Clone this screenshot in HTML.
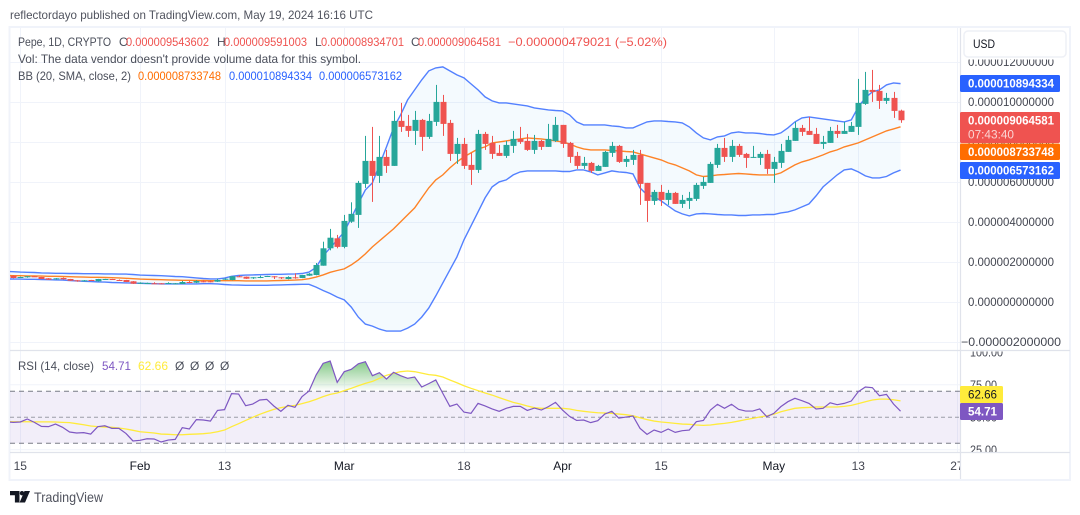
<!DOCTYPE html>
<html lang="en">
<head>
<meta charset="utf-8">
<title>Pepe 1D chart</title>
<style>
html,body{margin:0;padding:0;background:#fff;width:1080px;height:515px;overflow:hidden}
svg{display:block;font-family:"Liberation Sans",sans-serif}
text{white-space:pre}
</style>
</head>
<body>
<svg id="chart" xmlns="http://www.w3.org/2000/svg" width="1080" height="515" viewBox="0 0 1080 515">
  <defs>
    <clipPath id="clip-main"><rect x="10" y="28" width="950.5" height="322"/></clipPath>
    <clipPath id="clip-rsi"><rect x="10" y="351.5" width="950.5" height="100"/></clipPath>
    <clipPath id="clip-ob"><rect x="10" y="351.5" width="950.5" height="39.8"/></clipPath>
    <clipPath id="clip-time"><rect x="10" y="453" width="950" height="26"/></clipPath>
    <clipPath id="clip-rsi-axis"><rect x="961" y="351.5" width="108" height="100.5"/></clipPath>
    <linearGradient id="ob-gradient" gradientUnits="userSpaceOnUse" x1="0" y1="358" x2="0" y2="391.3">
      <stop offset="0" stop-color="#4caf50" stop-opacity="0.75"/>
      <stop offset="1" stop-color="#4caf50" stop-opacity="0"/>
    </linearGradient>
  </defs>

  <rect x="0" y="0" width="1080" height="515" fill="#ffffff"/>
  <text x="10" y="19" font-size="12" fill="#50535e" textLength="363" lengthAdjust="spacingAndGlyphs">reflectordayo published on TradingView.com, May 19, 2024 16:16 UTC</text>
  <rect x="9.5" y="27" width="1060.5" height="453" fill="#ffffff" stroke="#f0f3fa" stroke-width="2"/>

  <g id="grid"></g>
  <g id="rsi-pane"></g>
  <g id="main-pane" clip-path="url(#clip-main)"></g>

  <line x1="10" x2="1070" y1="350.5" y2="350.5" stroke="#e0e3eb" stroke-width="1.2"/>
  <line x1="10" x2="1070" y1="452.5" y2="452.5" stroke="#e0e3eb" stroke-width="1.2"/>
  <line x1="960.5" x2="960.5" y1="28" y2="479" stroke="#e0e3eb" stroke-width="1.2"/>

  <g id="price-ticks"></g>
  <g id="rsi-ticks" clip-path="url(#clip-rsi-axis)"></g>
  <g id="time-ticks" clip-path="url(#clip-time)"></g>

  <rect x="961.5" y="28" width="107" height="31.5" fill="#ffffff"/>
  <rect x="964" y="31" width="102" height="26" rx="4" fill="#ffffff" stroke="#eef0f6" stroke-width="1.5"/>
  <text x="973" y="48" font-size="12" fill="#131722" textLength="22" lengthAdjust="spacingAndGlyphs">USD</text>

  <g>
    <rect x="960" y="75" width="100" height="17" rx="1.5" fill="#2962ff"/>
    <text x="968" y="87.7" font-size="12" font-weight="700" fill="#ffffff" textLength="86" lengthAdjust="spacingAndGlyphs">0.000010894334</text>
  </g>
  <g>
    <rect x="960" y="112" width="100" height="31" rx="1.5" fill="#ef5350"/>
    <text x="968" y="124.7" font-size="12" font-weight="700" fill="#ffffff" textLength="86" lengthAdjust="spacingAndGlyphs">0.000009064581</text>
    <text x="968" y="138.5" font-size="12" fill="#ffffff" fill-opacity="0.75" textLength="46" lengthAdjust="spacingAndGlyphs">07:43:40</text>
  </g>
  <g>
    <rect x="960" y="143.5" width="100" height="16.5" rx="1.5" fill="#ff6d00"/>
    <text x="968" y="155.8" font-size="12" font-weight="700" fill="#ffffff" textLength="86" lengthAdjust="spacingAndGlyphs">0.000008733748</text>
  </g>
  <g>
    <rect x="960" y="162" width="100" height="17" rx="1.5" fill="#2962ff"/>
    <text x="968" y="174.7" font-size="12" font-weight="700" fill="#ffffff" textLength="86" lengthAdjust="spacingAndGlyphs">0.000006573162</text>
  </g>
  <g>
    <rect x="960" y="386" width="43" height="17" rx="1.5" fill="#ffeb3b"/>
    <text x="968" y="398.7" font-size="12" fill="#131722" textLength="29" lengthAdjust="spacingAndGlyphs">62.66</text>
  </g>
  <g>
    <rect x="960" y="403" width="43" height="17" rx="1.5" fill="#7e57c2"/>
    <text x="968" y="415.7" font-size="12" font-weight="700" fill="#ffffff" textLength="29" lengthAdjust="spacingAndGlyphs">54.71</text>
  </g>

  <g font-size="12" fill="#4a4e5a">
    <text x="18" y="46" textLength="93" lengthAdjust="spacingAndGlyphs">Pepe, 1D, CRYPTO</text>
    <text x="119" y="46">O</text>
    <text x="126" y="46" fill="#ef5350" textLength="83" lengthAdjust="spacingAndGlyphs">0.000009543602</text>
    <text x="217" y="46">H</text>
    <text x="224" y="46" fill="#ef5350" textLength="83" lengthAdjust="spacingAndGlyphs">0.000009591003</text>
    <text x="315" y="46">L</text>
    <text x="321" y="46" fill="#ef5350" textLength="83" lengthAdjust="spacingAndGlyphs">0.000008934701</text>
    <text x="411" y="46">C</text>
    <text x="418" y="46" fill="#ef5350" textLength="83" lengthAdjust="spacingAndGlyphs">0.000009064581</text>
    <text x="508" y="46" fill="#ef5350" textLength="159" lengthAdjust="spacingAndGlyphs">−0.000000479021 (−5.02%)</text>
    <text x="18" y="63" textLength="343" lengthAdjust="spacingAndGlyphs">Vol: The data vendor doesn't provide volume data for this symbol.</text>
    <text x="18" y="80" textLength="113" lengthAdjust="spacingAndGlyphs">BB (20, SMA, close, 2)</text>
    <text x="138" y="80" fill="#ff6d00" textLength="83" lengthAdjust="spacingAndGlyphs">0.000008733748</text>
    <text x="229" y="80" fill="#2962ff" textLength="83" lengthAdjust="spacingAndGlyphs">0.000010894334</text>
    <text x="319" y="80" fill="#2962ff" textLength="83" lengthAdjust="spacingAndGlyphs">0.000006573162</text>
  </g>
  <g font-size="12" fill="#4a4e5a">
    <text x="18" y="370" textLength="76" lengthAdjust="spacingAndGlyphs">RSI (14, close)</text>
    <text x="102" y="370" fill="#7e57c2" textLength="29" lengthAdjust="spacingAndGlyphs">54.71</text>
    <text x="138" y="370" fill="#ffeb3b" textLength="30" lengthAdjust="spacingAndGlyphs">62.66</text>
    <text x="175" y="370">Ø</text>
    <text x="190" y="370">Ø</text>
    <text x="205" y="370">Ø</text>
    <text x="220" y="370">Ø</text>
  </g>

  <g>
    <path fill="#131722" d="M10 491h9.5v11.5h-4.6v-7.2H10z"/>
    <circle cx="22" cy="493.2" r="2.2" fill="#131722"/>
    <path fill="#131722" d="M24.5 491H30l-5 11.5h-5.4z"/>
    <text x="34" y="502" font-size="14" fill="#50535e" textLength="69" lengthAdjust="spacingAndGlyphs">TradingView</text>
  </g>
</svg>

<script>
// All prices below are expressed in millionths (value × 10^-6). First entry is Jan 13, one per day.
const firstDay = -2;
const opens = [1.3,1.29,1.19,1.225,1.26,1.225,1.16,1.11,1.175,1.125,1.06,1.04,1.075,1.01,1.11,1.125,1.075,1.075,1.01,.89,.89,.91,.91,.89,.89,.875,.975,.94,1.01,1.01,.99,1.09,1.075,1.26,1.24,1.175,1.19,1.24,1.26,1.21,1.125,1.21,1.175,1.29,1.325,
1.79,2.66,3.16,2.73,3.99,4.33,5.88,7.03,6.28,7.23,6.78,9.03,8.78,8.53,9.08,8.23,8.98,9.98,8.93,7.38,7.88,6.83,6.58,8.38,7.93,7.43,7.28,7.78,8.13,8.03,7.58,8.03,7.73,8.03,8.83,7.93,7.28,6.78,6.93,6.53,6.73,7.43,7.78,6.98,7.08,7.33,5.93,5.03,5.48,5.08,5.43,4.88,5.03,5.13,5.78,5.93,6.83,7.68,7.23,7.78,7.38,7.18,7.18,7.38,6.63,6.93,7.48,8.03,8.68,8.53,8.38,7.88,7.93,8.53,8.38,8.48,8.73,9.88,10.58,10.53,10.03,10.18,9.544];
const highs = [1.32,1.31,1.24,1.27,1.27,1.23,1.17,1.17,1.2,1.13,1.07,1.07,1.08,1.13,1.13,1.13,1.1,1.08,1.02,.96,.94,.96,.92,.96,.92,1.03,1.02,1.06,1.06,1.05,1.14,1.15,1.27,1.31,1.25,1.22,1.29,1.28,1.27,1.22,1.26,1.41,1.33,1.42,1.925,
2.99,3.63,3.33,4.33,4.96,6.03,8.28,8.73,8.28,7.58,9.53,9.93,9.33,9.53,9.13,9.38,10.83,10.33,9.08,8.18,8.18,7.43,8.58,8.48,8.28,7.83,8.03,8.53,8.73,8.38,8.33,8.08,8.88,9.23,8.83,7.98,7.48,7.23,6.98,6.83,7.53,7.98,7.83,7.28,7.58,7.58,5.93,5.58,5.83,5.58,5.48,5.33,5.48,5.93,6.23,6.98,7.88,8.18,8.08,7.88,7.43,7.78,7.48,7.58,7.23,7.88,8.28,8.98,8.83,9.23,8.68,8.28,8.73,8.83,8.98,8.98,11.13,11.48,11.58,10.83,10.43,10.48,9.591];
const lows = [1.28,1.16,1.175,1.19,1.23,1.12,1.08,1.10,1.1,1.03,.99,1.03,1.03,1.0,1.1,1.08,1.03,.97,.88,.88,.88,.88,.88,.88,.88,.87,.92,.92,.96,.96,.98,1.08,1.06,1.23,1.13,1.13,1.17,1.23,1.125,1.125,1.11,1.14,1.17,1.28,1.31,
1.79,2.56,2.66,2.66,3.93,3.68,5.68,4.98,5.93,6.43,6.78,8.48,8.23,7.83,7.53,8.13,8.78,8.28,7.03,6.88,6.63,5.83,6.43,7.58,7.13,7.28,7.18,7.43,7.88,7.53,7.38,7.58,7.73,7.98,7.68,6.93,6.63,6.63,6.43,6.53,6.73,7.23,6.93,6.73,6.83,4.83,3.98,4.83,4.78,4.83,4.88,4.68,4.63,5.03,5.63,5.93,6.68,6.98,6.98,7.23,6.68,7.18,6.83,6.38,5.93,6.68,7.48,8.03,8.28,8.33,7.88,7.63,7.93,8.18,8.38,8.48,8.33,9.83,9.98,9.63,9.88,9.18,8.935];
const closes = [1.29,1.175,1.225,1.26,1.24,1.125,1.09,1.16,1.11,1.04,1.04,1.06,1.04,1.125,1.125,1.09,1.04,.975,.89,.94,.925,.89,.89,.925,.91,.975,.94,1.025,.99,.99,1.075,1.14,1.26,1.24,1.14,1.21,1.225,1.275,1.24,1.19,1.225,1.19,1.325,1.39,1.825,
2.66,3.19,2.73,4.03,4.38,5.93,7.03,6.28,7.23,6.78,9.03,8.73,8.53,9.08,8.23,9.03,9.98,8.88,7.38,7.88,6.78,6.58,8.38,7.88,7.38,7.28,7.83,8.13,7.98,7.58,8.03,7.73,8.13,8.83,7.88,7.23,6.78,6.93,6.53,6.78,7.48,7.78,6.98,7.13,7.33,5.88,5.03,5.48,5.08,5.43,4.88,5.08,5.18,5.83,5.98,6.88,7.68,7.23,7.78,7.33,7.18,7.23,7.38,6.63,6.98,7.53,8.08,8.68,8.48,8.33,7.88,7.98,8.53,8.38,8.53,8.78,9.93,10.58,10.48,10.03,10.18,9.53,9.065];

const bbUpper = [1.5,1.49,1.47,1.46,1.45,1.43,1.42,1.41,1.41,1.40,1.40,1.39,1.39,1.39,1.38,1.38,1.37,1.37,1.35,1.32,1.31,1.30,1.29,1.27,1.25,1.24,1.21,1.18,1.15,1.13,1.13,1.17,1.26,1.30,1.32,1.33,1.34,1.35,1.36,1.36,1.37,1.38,1.40,1.47,1.7,
2.28,2.68,3.08,3.48,4.18,4.9,5.58,5.93,6.83,7.73,8.68,9.33,10.08,10.58,11.08,11.53,11.68,11.73,11.53,11.33,11.18,10.88,10.58,10.23,10.03,9.93,9.93,9.88,9.83,9.78,9.68,9.63,9.58,9.55,9.53,9.33,8.98,8.83,8.83,8.83,8.83,8.78,8.75,8.68,8.68,8.83,8.98,9.03,9.03,9.0,8.98,8.93,8.73,8.43,8.18,8.08,8.23,8.28,8.43,8.48,8.43,8.43,8.4,8.35,8.33,8.43,8.68,8.98,9.18,9.23,9.18,9.13,9.08,9.03,8.98,9.08,9.73,10.18,10.48,10.58,10.83,10.93,10.894];
const bbBasis = [1.3,1.29,1.29,1.28,1.28,1.27,1.26,1.26,1.25,1.24,1.23,1.22,1.21,1.21,1.20,1.19,1.18,1.16,1.14,1.12,1.11,1.10,1.09,1.08,1.07,1.06,1.06,1.05,1.05,1.04,1.04,1.04,1.04,1.04,1.03,1.03,1.03,1.03,1.04,1.05,1.06,1.07,1.09,1.14,1.22,
1.33,1.46,1.55,1.63,1.83,2.08,2.38,2.73,3.03,3.33,3.63,3.98,4.33,4.68,5.18,5.68,6.08,6.33,6.68,6.98,7.23,7.43,7.63,7.73,7.93,7.98,8.03,8.08,8.13,8.18,8.15,8.13,8.08,8.03,7.98,7.88,7.73,7.63,7.58,7.58,7.58,7.55,7.53,7.5,7.48,7.38,7.28,7.18,7.08,6.93,6.83,6.68,6.53,6.33,6.25,6.28,6.33,6.35,6.38,6.4,6.38,6.35,6.33,6.33,6.33,6.43,6.63,6.83,6.98,7.08,7.2,7.33,7.48,7.58,7.73,7.83,7.93,8.08,8.23,8.38,8.53,8.63,8.734];
const bbLower = [1.13,1.12,1.12,1.11,1.11,1.10,1.09,1.08,1.07,1.05,1.03,1.01,1.00,.98,.97,.95,.94,.93,.92,.91,.90,.89,.88,.88,.88,.88,.88,.88,.89,.89,.88,.85,.83,.82,.81,.81,.81,.81,.82,.83,.84,.85,.86,.86,.72,
.55,.40,.22,.08,-.28,-.78,-1.13,-1.23,-1.38,-1.48,-1.48,-1.48,-1.33,-1.13,-.78,-.33,.28,.93,1.58,2.23,3.08,3.78,4.48,5.18,5.73,5.98,6.08,6.33,6.48,6.53,6.53,6.53,6.53,6.53,6.5,6.5,6.58,6.58,6.48,6.33,6.43,6.53,6.48,6.45,6.38,5.68,5.33,5.23,5.03,4.78,4.53,4.38,4.28,4.38,4.4,4.38,4.35,4.33,4.33,4.3,4.3,4.33,4.33,4.35,4.35,4.43,4.48,4.58,4.73,4.88,5.28,5.73,6.03,6.33,6.58,6.63,6.48,6.28,6.18,6.18,6.25,6.43,6.573];

const rsiValues = [46.5,46.1,46.4,48.7,46.1,43.0,42.8,44.8,42.3,38.7,37.9,38.2,37.1,42.8,43.5,41.5,41.5,37.6,31.8,32.3,33.5,33.3,31,32.5,33,42,41,48.2,47.9,47.1,55.3,55.9,68.2,67.9,58.9,60.2,63.3,63.8,58.7,54.6,59.2,57.7,65.9,70.2,82.5,
91.5,93.3,76.9,85.1,86.9,91.2,92.8,82,84.3,79.4,84.6,82,80,81,73.3,75.9,78.7,68.4,58.4,60.2,54,53,60.7,58.7,56.4,54.6,56.9,58.4,58.4,55.3,57.1,55.6,58.2,61.5,55.6,50.7,47.6,47.9,45.9,47.4,52.5,54.6,49.4,50.2,51,41.5,36.9,40.2,38.4,41,38.4,39.7,40.2,46.6,47.6,55.6,60,56.9,60,56.1,54.8,54.8,56.4,50.5,53,58.2,62,64.6,62.8,60.7,56.4,56.9,61.2,59.7,60.7,62.5,69.7,73.3,72.8,66.6,67.6,60.2,54.71];
const rsiMa = [46.7,46.6,46.6,46.6,46.5,46.5,46.5,46.4,46.1,45.9,45.1,44.3,43.3,42.8,42.5,42.3,41.8,41,40,38.9,38.4,37.9,37.1,36.9,36.6,36.6,36.9,37.1,37.4,37.9,38.9,40.2,42.8,45.1,47.6,50,52.3,54.3,56.1,57.4,58.4,59.2,60.5,62,63.8,
65.9,67.6,68.7,70.5,72.3,74.3,76.1,77.6,80,82.3,83.8,85.1,85.6,85.1,84,82.8,82.3,81,78.7,76.6,74.3,72.3,70.5,68.7,67.1,65.1,63.3,61.5,60.2,58.7,57.4,56.9,56.9,56.9,56.9,56.4,55.3,54.6,54,53.5,53.3,53,52.5,52,51.2,49.7,48.2,47.1,46.4,45.9,45.3,44.8,44.6,44.1,43.8,44.1,44.8,45.3,46.1,47.1,48.2,49.2,50.2,51.2,52.3,54.3,55.6,56.9,57.4,57.6,57.9,57.9,57.9,57.9,58.4,59.2,60.5,62,63.3,64,64,63.5,62.66];

const priceTickValues = [12,10,8,6,4,2,0,-2];
const priceTickLabels = ['0.000012000000','0.000010000000','0.000008000000','0.000006000000','0.000004000000','0.000002000000','0.000000000000','−0.000002000000'];
const timeTickDays = [0,17,29,46,63,77,91,107,119,133];
const timeTickLabels = ['15','Feb','13','Mar','18','Apr','15','May','13','27'];
const timeTickStrong = ['Feb','Mar','Apr','May'];
const rsiTickValues = [100,75,50,25];
const rsiTickLabels = ['100.00','75.00','50.00','25.00'];
const rsiBandLevels = [70,50,30];

const NS = 'http://www.w3.org/2000/svg';
const xOf = day => 20.3 + 7.042 * day;
const yPrice = v => 301.5 - 20 * v;
const yRsi = v => 417.3 - (v - 50) * 1.3;
const dayAt = i => firstDay + i;

function mk(tag, parent, attrs, text) {
  const el = document.createElementNS(NS, tag);
  for (const k in attrs) el.setAttribute(k, attrs[k]);
  if (text !== undefined) el.textContent = text;
  parent.appendChild(el);
  return el;
}
function linePoints(values, yFn) {
  return values.map((v, i) => xOf(dayAt(i)).toFixed(2) + ',' + yFn(v).toFixed(2)).join(' ');
}

const grid = document.getElementById('grid');
const main = document.getElementById('main-pane');
const rsiPane = document.getElementById('rsi-pane');
const priceTicks = document.getElementById('price-ticks');
const rsiTicks = document.getElementById('rsi-ticks');
const timeTicks = document.getElementById('time-ticks');

timeTickDays.forEach((d, i) => {
  const x = Math.round(xOf(d)) + 0.5;
  const gl = mk('line', grid, {x1: x, x2: x, y1: 28, y2: 452, stroke: '#f0f3fa', 'stroke-width': 1});
  
  
  const strong = timeTickStrong.indexOf(timeTickLabels[i]) >= 0;
  const tl = mk('text', timeTicks, {x: xOf(d), y: 470, 'font-size': 12, 'text-anchor': 'middle', fill: strong ? '#131722' : '#434651'}, timeTickLabels[i]);
  
  
});

priceTickValues.forEach((v, i) => {
  const y = Math.round(yPrice(v)) + 0.5;
  const gl = mk('line', grid, {x1: 10, x2: 960, y1: y, y2: y, stroke: '#f0f3fa', 'stroke-width': 1});
  
  
  const neg = priceTickLabels[i].charAt(0) === '−';
  const tl = mk('text', priceTicks, {x: neg ? 961 : 968, y: yPrice(v) + 4.3, 'font-size': 12, fill: '#434651', textLength: neg ? 100 : 86, lengthAdjust: 'spacingAndGlyphs'}, priceTickLabels[i]);
  
  
});

rsiTickValues.forEach((v, i) => {
  const y = yRsi(v);
  if (v !== 50 && v !== 100) {
    const gl = mk('line', grid, {x1: 10, x2: 960, y1: y, y2: y, stroke: '#f0f3fa', 'stroke-width': 1});
    
    
  }
  const tl = mk('text', rsiTicks, {x: 970, y: y + 4.3, 'font-size': 12, fill: '#434651', textLength: rsiTickLabels[i].length === 6 ? 33 : 27, lengthAdjust: 'spacingAndGlyphs'}, rsiTickLabels[i]);
  
  
});

/* Bollinger bands */
const bandPts = linePoints(bbUpper, yPrice) + ' ' + bbLower.map((v, i) => xOf(dayAt(i)).toFixed(2) + ',' + yPrice(v).toFixed(2)).reverse().join(' ');
const bandFill = mk('polygon', main, {points: bandPts, fill: '#2196f3', 'fill-opacity': 0.05, stroke: 'none'});



const basisLine = mk('polyline', main, {points: linePoints(bbBasis, yPrice), fill: 'none', stroke: '#ff6d00', 'stroke-width': 1.4, 'stroke-opacity': 0.85});


const upperLine = mk('polyline', main, {points: linePoints(bbUpper, yPrice), fill: 'none', stroke: '#2962ff', 'stroke-width': 1.4, 'stroke-opacity': 0.8});


const lowerLine = mk('polyline', main, {points: linePoints(bbLower, yPrice), fill: 'none', stroke: '#2962ff', 'stroke-width': 1.4, 'stroke-opacity': 0.8});



/* Candles */
closes.forEach((c, i) => {
  const o = opens[i], h = highs[i], l = lows[i];
  const col = c >= o ? '#26a69a' : '#ef5350';
  const cx = Math.round(xOf(dayAt(i)));
  const g = mk('g', main, {});
  
  
  const wick = mk('rect', g, {x: cx, y: yPrice(h), width: 1, height: Math.max(0.5, yPrice(l) - yPrice(h)), fill: col});
  
  
  const top = yPrice(Math.max(o, c));
  const body = mk('rect', g, {x: cx - 2.5, y: top, width: 6, height: Math.max(1, yPrice(Math.min(o, c)) - top), fill: col});
  
  
});

/* RSI pane */
const firstX = 10, lastX = 960;
const band = mk('rect', rsiPane, {x: firstX, y: yRsi(rsiBandLevels[0]), width: lastX - firstX, height: yRsi(rsiBandLevels[2]) - yRsi(rsiBandLevels[0]), fill: '#7e57c2', 'fill-opacity': 0.1});


rsiBandLevels.forEach(level => {
  const d = mk('line', rsiPane, {x1: firstX, x2: lastX, y1: yRsi(level), y2: yRsi(level), stroke: '#787b86', 'stroke-width': 1, 'stroke-dasharray': level === 50 ? '4 3' : '5 4', 'stroke-opacity': level === 50 ? 0.7 : 1});
  
  
});
const obLevel = yRsi(rsiBandLevels[0]);
const obPts = xOf(dayAt(0)).toFixed(2) + ',' + obLevel + ' ' + linePoints(rsiValues, yRsi) + ' ' + xOf(dayAt(rsiValues.length - 1)).toFixed(2) + ',' + obLevel;
const obFill = mk('polygon', rsiPane, {points: obPts, fill: 'url(#ob-gradient)', 'clip-path': 'url(#clip-ob)'});


const maLine = mk('polyline', rsiPane, {points: linePoints(rsiMa, yRsi), fill: 'none', stroke: '#ffeb3b', 'stroke-width': 1.3, 'clip-path': 'url(#clip-rsi)'});


const rsiLine = mk('polyline', rsiPane, {points: linePoints(rsiValues, yRsi), fill: 'none', stroke: '#7e57c2', 'stroke-width': 1.2, 'clip-path': 'url(#clip-rsi)'});


</script>
</body>
</html>
